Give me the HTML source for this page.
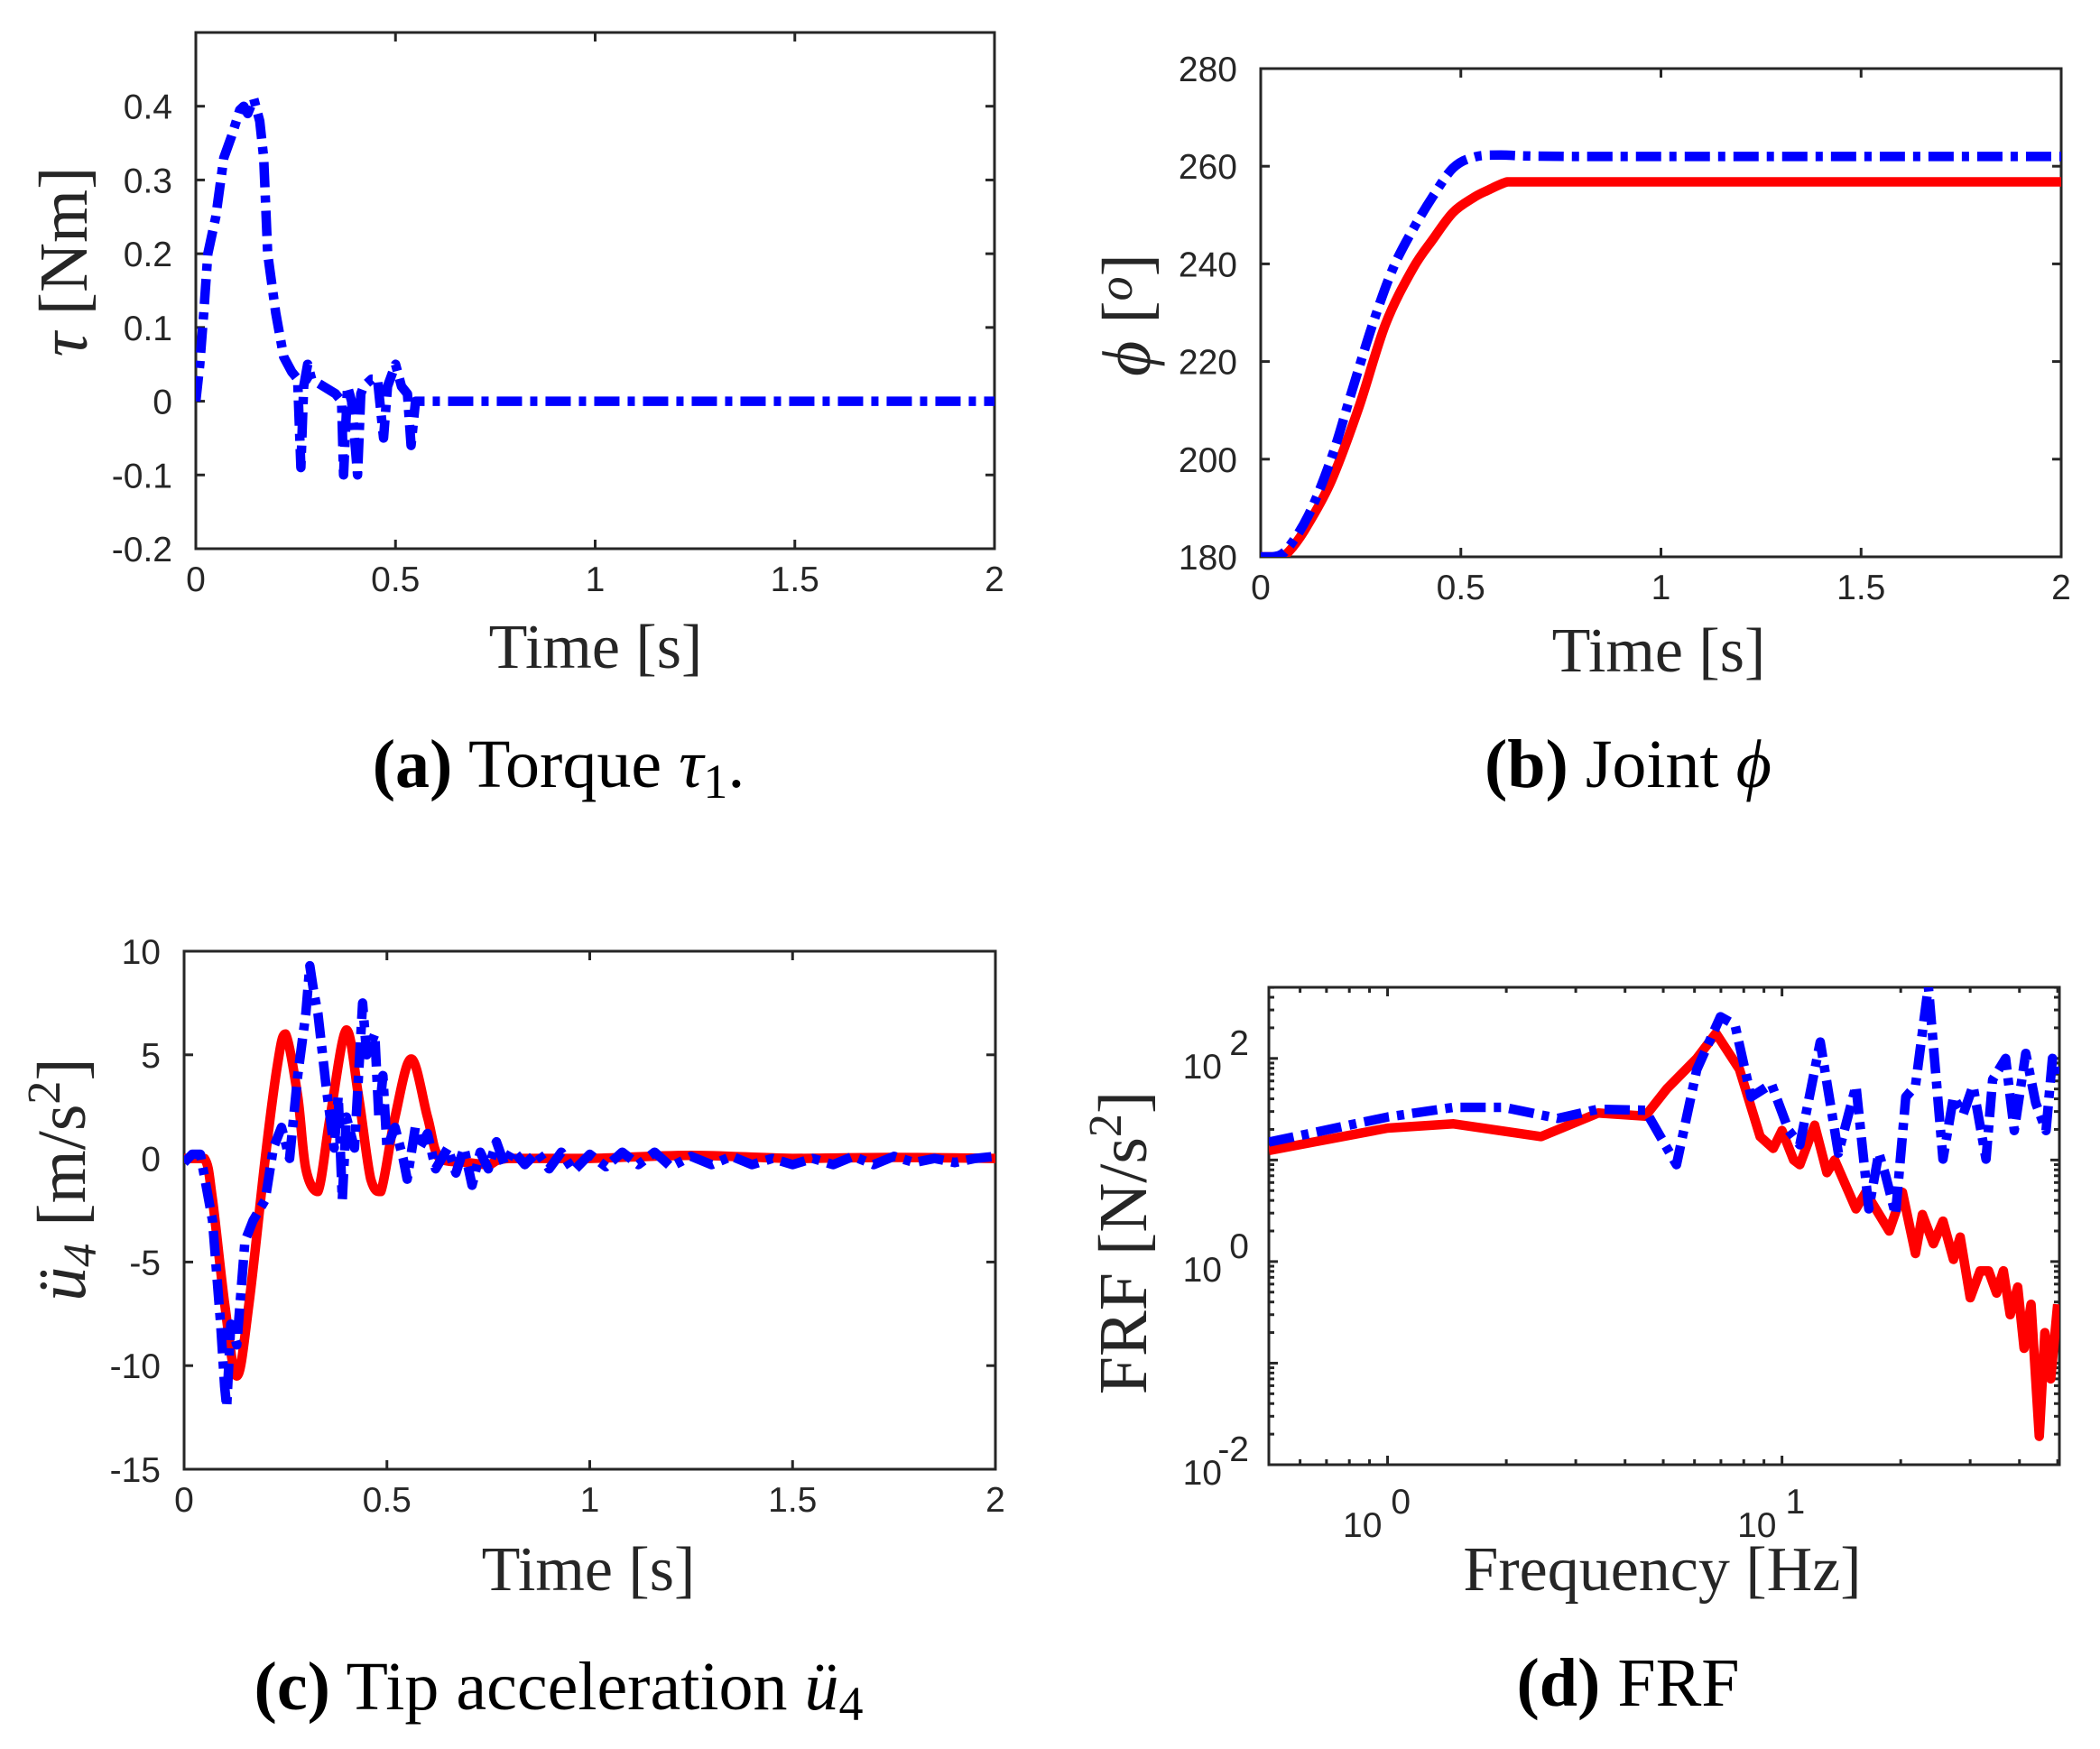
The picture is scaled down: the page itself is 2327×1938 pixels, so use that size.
<!DOCTYPE html>
<html><head><meta charset="utf-8"><style>
html,body{margin:0;padding:0;background:#fff;}
svg{display:block;}
.tick{font-family:"Liberation Sans",sans-serif;font-size:39px;fill:#262626;}
.ttl{font-family:"Liberation Serif",serif;font-size:70px;fill:#262626;}
.ylab{font-family:"Liberation Serif",serif;font-size:76px;fill:#262626;}
.cap{font-family:"Liberation Serif",serif;font-size:76px;fill:#000;}
</style></head><body>
<svg id="fig" width="2327" height="1938" viewBox="0 0 2327 1938" xmlns="http://www.w3.org/2000/svg">
<defs>
<clipPath id="clipA"><rect x="217" y="36" width="885" height="572"/></clipPath>
<clipPath id="clipB"><rect x="1397" y="76" width="887" height="541"/></clipPath>
<clipPath id="clipC"><rect x="204" y="1054" width="899" height="574"/></clipPath>
<clipPath id="clipD"><rect x="1406" y="1094" width="876" height="529"/></clipPath>
</defs>
<g id="layer"></g>
<text class="ttl" x="660" y="740" text-anchor="middle">Time [s]</text>
<text class="ttl" x="1838" y="744" text-anchor="middle">Time [s]</text>
<text class="ttl" x="652" y="1762" text-anchor="middle">Time [s]</text>
<text class="ttl" x="1842" y="1762" text-anchor="middle">Frequency [Hz]</text>
<text class="ylab" transform="translate(96,290) rotate(-90)" text-anchor="middle"><tspan font-style="italic">τ</tspan>  [Nm]</text>
<text class="ylab" transform="translate(1274,349) rotate(-90)" text-anchor="middle"><tspan font-style="italic">ϕ</tspan>  [<tspan font-style="italic" font-size="54" dy="-20">o</tspan><tspan dy="20">]</tspan></text>
<text class="ylab" transform="translate(94,1307) rotate(-90)" text-anchor="middle"><tspan font-style="italic">ü</tspan><tspan font-style="italic" font-size="52" dy="12">4</tspan><tspan dy="-12">  [m/s</tspan><tspan font-size="52" dy="-28">2</tspan><tspan dy="28">]</tspan></text>
<text class="ylab" transform="translate(1270,1377) rotate(-90)" text-anchor="middle">FRF [N/s<tspan font-size="52" dy="-28">2</tspan><tspan dy="28">]</tspan></text>
<text class="cap" x="619" y="872" text-anchor="middle"><tspan font-weight="bold">(a)</tspan> Torque <tspan font-style="italic">τ</tspan><tspan font-size="54" dy="12">1</tspan><tspan dy="-12">.</tspan></text>
<text class="cap" x="1804" y="872" text-anchor="middle"><tspan font-weight="bold">(b)</tspan> Joint <tspan font-style="italic">ϕ</tspan></text>
<text class="cap" x="619" y="1894" text-anchor="middle"><tspan font-weight="bold">(c)</tspan> Tip acceleration <tspan font-style="italic">ü</tspan><tspan font-size="54" dy="12">4</tspan></text>
<text class="cap" x="1804" y="1890" text-anchor="middle"><tspan font-weight="bold">(d)</tspan> FRF</text>
</svg>
<script>
const aT = [0,0.01,0.02,0.03,0.05,0.07,0.09,0.11,0.12,0.13,0.145,0.16,0.17,0.18,0.2,0.22,0.24,0.255,0.263,0.27,0.28,0.29,0.32,0.35,0.365,0.37,0.38,0.39,0.405,0.413,0.42,0.44,0.455,0.47,0.48,0.5,0.515,0.53,0.539,0.55,0.56,1.2,2];
const aTau = [0,0.05,0.12,0.2,0.25,0.33,0.36,0.395,0.4,0.39,0.41,0.38,0.33,0.2,0.12,0.06,0.04,0.03,-0.09,0.02,0.05,0.03,0.02,0.01,0.0,-0.1,0.02,0.0,-0.1,0.01,0.02,0.03,0.03,-0.05,0.02,0.05,0.02,0.01,-0.06,0.0,0,0,0];
const aYTicks = [-0.2,-0.1,0,0.1,0.2,0.3,0.4];
const aYLabels = ["-0.2","-0.1","0","0.1","0.2","0.3","0.4"];
const timeTicks = [0,0.5,1,1.5,2];
const timeLabels = ["0","0.5","1","1.5","2"];
const bTRed = [0,0.05,0.08,0.118,0.177,0.245,0.312,0.38,0.43,0.48,0.53,0.565,0.616,0.65,2];
const bPhiRed = [180,180,182,186.6,195.7,210.6,227.7,239,245,250.5,253.5,255,256.8,256.8,256.8];
const bTBlue = [0,0.03,0.06,0.118,0.177,0.228,0.28,0.33,0.38,0.43,0.48,0.53,0.6,0.8,2];
const bPhiBlue = [180,180,181,188.3,200.3,214,227.7,239,247,253.8,259.6,261.8,262.3,262,262];
const bYTicks = [180,200,220,240,260,280];
const bYLabels = ["180","200","220","240","260","280"];
const cTRed = [0,0.05,0.07,0.1,0.13,0.16,0.2,0.23,0.25,0.28,0.3,0.33,0.36,0.4,0.43,0.46,0.485,0.52,0.56,0.6,0.63,0.7,0.75,0.8,1.0,1.25,1.5,1.75,2];
const cAccRed = [0,0,-2,-7,-10.5,-7,0,4.5,6,3,-0.5,-1.6,2,6.2,3,-1,-1.6,2,4.8,2,0,-0.2,-0.3,0,0,0.15,0,0.05,0];
const cTBlue = [0,0.02,0.04,0.07,0.09,0.1,0.105,0.115,0.13,0.15,0.17,0.2,0.22,0.24,0.26,0.28,0.3,0.31,0.32,0.33,0.35,0.37,0.38,0.39,0.4,0.42,0.44,0.45,0.47,0.48,0.49,0.5,0.52,0.54,0.55,0.57,0.58,0.6,0.62,0.65,0.67,0.69,0.71,0.73,0.75,0.77,0.79,0.81,0.84,0.87,0.9,0.93,0.96,1.0,1.04,1.08,1.12,1.16,1.2,1.25,1.3,1.35,1.4,1.45,1.5,1.55,1.6,1.65,1.7,1.75,1.8,1.85,1.9,1.95,2];
const cAccBlue = [-0.2,0.2,0.2,-3,-8,-11,-12,-8,-9,-4,-3,-2,0.5,1.5,0,4,7,9.3,8,7,3.5,0.5,3,-2,2,0.5,7.5,5,6,2,4,0.5,1.5,0,-1,1.5,0.5,1.2,-0.5,0.5,-0.7,0.5,-1.3,0.3,-0.5,0.8,-0.3,0.4,-0.3,0.3,-0.5,0.3,-0.6,0.2,-0.4,0.3,-0.3,0.3,-0.4,0.1,-0.3,0.1,-0.3,0,-0.3,0,-0.3,0.1,-0.3,0.1,-0.2,0,-0.2,0,0.1];
const cYTicks = [-15,-10,-5,0,5,10];
const cYLabels = ["-15","-10","-5","0","5","10"];
const dFRed = [0.5,1,1.47,2.45,3.42,4.5,5.1,6.08,6.8,7.8,8.8,9.5,10,10.7,11.1,12.1,13,13.6,15.4,16.3,18.7,20.2,21.8,22.7,24.2,25.6,27.2,28.3,30,31.8,33.4,35,36.4,37.9,39.6,41.1,42.8,44.9,46.4,48,50];
const dMagRed = [12.4,20.6,22.7,17,29,27,50,100,177,78,17,13,19.5,10,9,22,7.5,10,3.3,4.8,2,4.8,1.2,2.9,1.5,2.5,1.05,1.74,0.44,0.81,0.81,0.49,0.81,0.3,0.56,0.14,0.38,0.019,0.2,0.07,0.38];
const dFBlue = [0.5,1,1.47,1.97,2.7,3.42,4.5,5.4,6.08,6.98,7.6,8.35,9.4,10.4,11.1,12.5,13.9,15.4,16.6,17.6,18.3,19.4,20.6,21.8,23.5,25.6,27.2,28.8,30.5,32.9,34.2,36.9,38.8,41.5,44,46.7,48.5,50];
const dMagBlue = [15,26.5,33,33,25.7,31.6,30.9,9,77.6,257,214,41.7,56,19.5,14.1,145,11.7,53.7,3.3,11.7,7.1,2.9,41.7,53.7,513,10.2,41.7,28.2,53.7,10.2,61.7,100,19.5,112,36.3,19.5,100,60];
const dXTicks = [1,10];
const dXExp = ["0","1"];
const dYTicks = [0.01,1,100];
const dYExp = ["-2","0","2"];

const NS="http://www.w3.org/2000/svg";
const layer=document.getElementById('layer');
function mk(tag,attrs,parent){const e=document.createElementNS(NS,tag);for(const k in attrs)e.setAttribute(k,attrs[k]);(parent||layer).appendChild(e);return e;}
function linScale(d0,d1,r0,r1){return v=>r0+(v-d0)/(d1-d0)*(r1-r0);}
function logScale(d0,d1,r0,r1){const l0=Math.log10(d0),l1=Math.log10(d1);return v=>r0+(Math.log10(v)-l0)/(l1-l0)*(r1-r0);}
function frame(name,L,T,R,B){
  const r=mk('rect',{x:L,y:T,width:R-L,height:B-T,fill:'none',stroke:'#262626','stroke-width':3});
  
  
}
function tickMark(x1,y1,x2,y2,name){
  const l=mk('line',{x1,y1,x2,y2,stroke:'#262626','stroke-width':3});
  
  
}
function label(x,y,txt,anchor,name){
  const t=mk('text',{x,y,'text-anchor':anchor,'class':'tick'});
  t.textContent=txt;
  
  
  return t;
}
function clamp(v,a,b){const lo=Math.min(a,b),hi=Math.max(a,b);return Math.max(lo,Math.min(hi,v));}
function series(xs,ys,sx,sy,color,dashed,clip,name,smooth){
  const P=xs.map((x,i)=>[sx(x),sy(ys[i])]);
  let d='M'+P[0][0].toFixed(1)+' '+P[0][1].toFixed(1);
  for(let i=0;i<P.length-1;i++){
    if(smooth){
      const p0=P[Math.max(0,i-1)],p1=P[i],p2=P[i+1],p3=P[Math.min(P.length-1,i+2)];
      const c1=[clamp(p1[0]+(p2[0]-p0[0])/6,p1[0],p2[0]),clamp(p1[1]+(p2[1]-p0[1])/6,p1[1],p2[1])];
      const c2=[clamp(p2[0]-(p3[0]-p1[0])/6,p1[0],p2[0]),clamp(p2[1]-(p3[1]-p1[1])/6,p1[1],p2[1])];
      d+='C'+c1[0].toFixed(1)+' '+c1[1].toFixed(1)+' '+c2[0].toFixed(1)+' '+c2[1].toFixed(1)+' '+p2[0].toFixed(1)+' '+p2[1].toFixed(1);
    } else d+='L'+P[i+1][0].toFixed(1)+' '+P[i+1][1].toFixed(1);
  }
  const g=mk('g',{'clip-path':'url(#'+clip+')'});
  const p=mk('path',{d,fill:'none',stroke:color,'stroke-width':10.5,'stroke-linejoin':'round'},g);
  if(dashed){p.setAttribute('stroke-dasharray','28 9 8 9');}
  
  
}
function linAxes(id,L,T,R,B,ymin,ymax,yt,yl){
  const sx=linScale(0,2,L,R), sy=linScale(ymin,ymax,B,T);
  frame('axes-'+id,L,T,R,B);
  timeTicks.forEach((v,i)=>{
    const x=sx(v);
    tickMark(x,B,x,B-10,'x-tick-'+id);
    tickMark(x,T,x,T+10,'x-tick-top-'+id);
    label(x,B+47,timeLabels[i],'middle','x-tick-label-'+id);
  });
  yt.forEach((v,i)=>{
    const y=sy(v);
    tickMark(L,y,L+10,y,'y-tick-'+id);
    tickMark(R,y,R-10,y,'y-tick-right-'+id);
    label(L-26,y+14,yl[i],'end','y-tick-label-'+id);
  });
  return [sx,sy];
}
let [ax,ay]=linAxes('a',217,36,1102,608,-0.2,0.5,aYTicks,aYLabels);
series(aT,aTau,ax,ay,'#0000ff',true,'clipA','torque-line',false);
let [bx,by]=linAxes('b',1397,76,2284,617,180,280,bYTicks,bYLabels);
series(bTRed,bPhiRed,bx,by,'#ff0000',false,'clipB','joint-red-line',true);
series(bTBlue,bPhiBlue,bx,by,'#0000ff',true,'clipB','joint-blue-line',true);
let [cx,cy]=linAxes('c',204,1054,1103,1628,-15,10,cYTicks,cYLabels);
series(cTRed,cAccRed,cx,cy,'#ff0000',false,'clipC','accel-red-line',true);
series(cTBlue,cAccBlue,cx,cy,'#0000ff',true,'clipC','accel-blue-line',false);
(function(){
  const L=1406,T=1094,R=2282,B=1623;
  const sx=logScale(0.5,50.5,L,R), sy=logScale(0.01,Math.pow(10,2.7),B,T);
  frame('axes-d',L,T,R,B);
  for(let dec=-1;dec<=1;dec++){for(let m=1;m<10;m++){const v=m*Math.pow(10,dec);if(v<0.5||v>50.5)continue;const x=sx(v);const len=(m===1)?10:6;
    tickMark(x,B,x,B-len,'x-minor-tick-d');tickMark(x,T,x,T+len,'x-minor-tick-top-d');}}
  for(let dec=-2;dec<=2;dec++){for(let m=1;m<10;m++){const v=m*Math.pow(10,dec);if(v>Math.pow(10,2.7))continue;const y=sy(v);const len=(m===1)?10:6;
    tickMark(L,y,L+len,y,'y-minor-tick-d');tickMark(R,y,R-len,y,'y-minor-tick-right-d');}}
  dXTicks.forEach((v,i)=>{
    const x=sx(v);
    const t=label(x-12,B+80,'10','middle','x-tick-label-d');
    const s=mk('tspan',{dx:10,dy:-26},t);s.textContent=dXExp[i];
  });
  dYTicks.forEach((v,i)=>{
    const y=sy(v);
    label(L-52,y+22,'10','end','y-tick-label-d');
    const s=mk('text',{x:L-22,y:y-4,'text-anchor':'end','class':'tick'});
    s.textContent=dYExp[i];
    
    
  });
  series(dFRed,dMagRed,sx,sy,'#ff0000',false,'clipD','frf-red-line',false);
  series(dFBlue,dMagBlue,sx,sy,'#0000ff',true,'clipD','frf-blue-line',false);
})();
</script>
</body></html>
